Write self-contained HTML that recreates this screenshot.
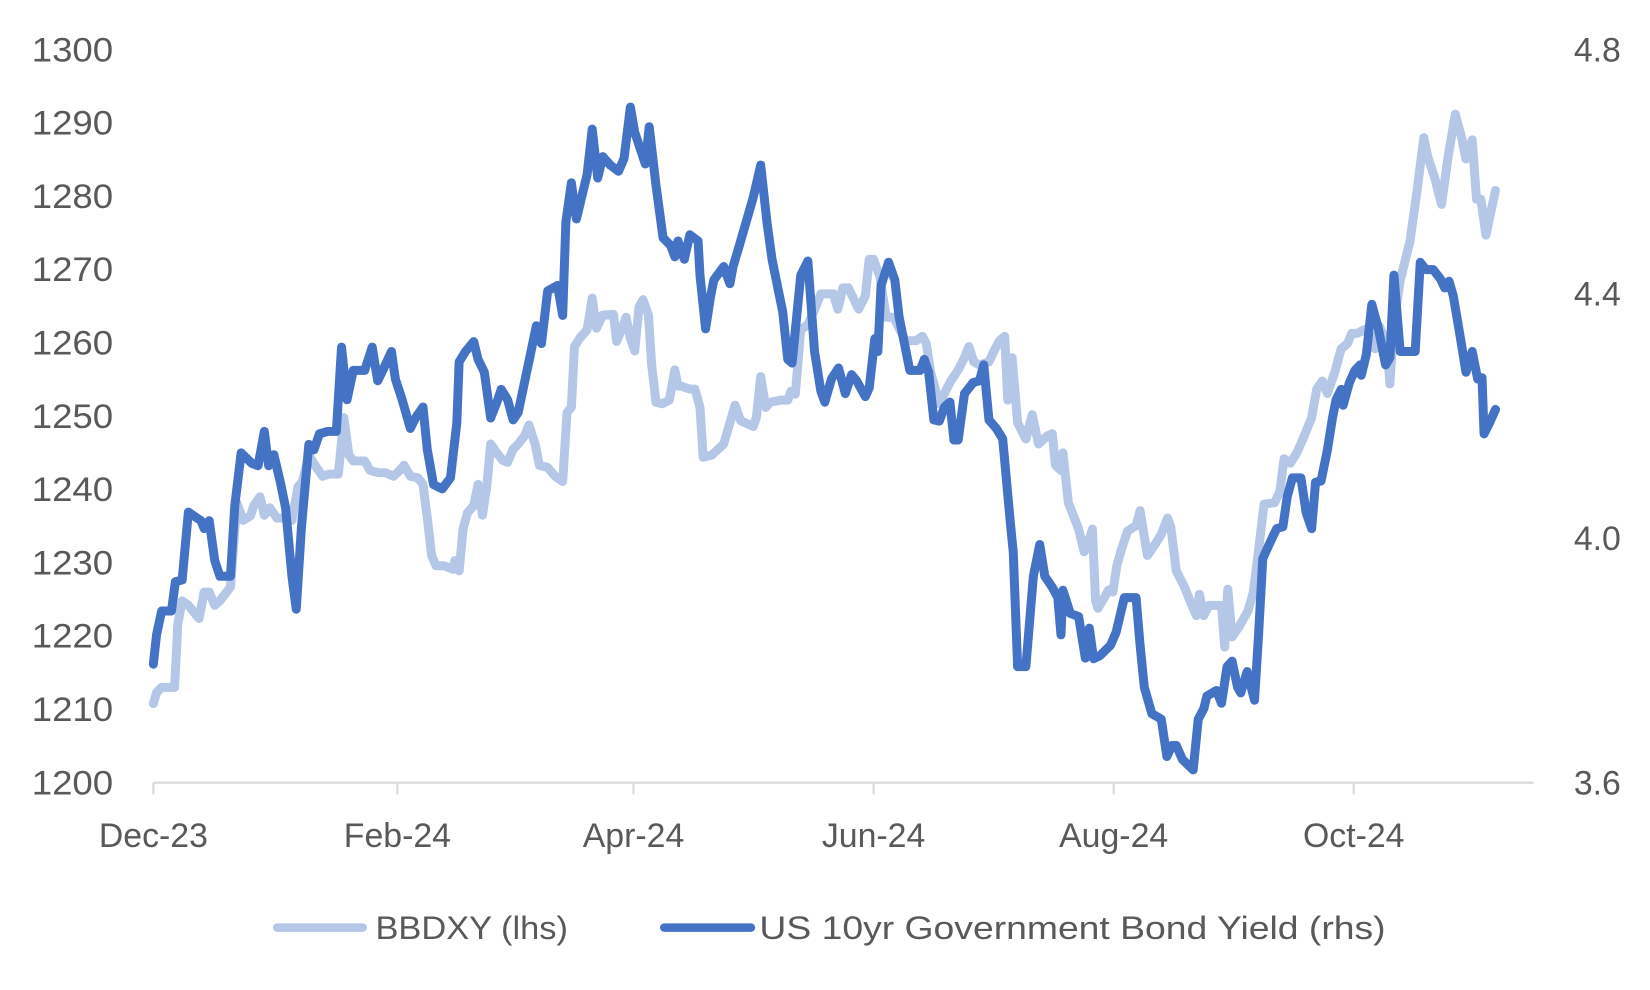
<!DOCTYPE html>
<html><head><meta charset="utf-8"><style>
html,body{margin:0;padding:0;background:#fff;}
svg{display:block;}
text{font-family:"Liberation Sans",sans-serif;fill:#595959;}
</style></head><body>
<svg id="chart" width="1650" height="990" viewBox="0 0 1560 936" preserveAspectRatio="none" xmlns="http://www.w3.org/2000/svg">
<g id="axes"></g>
<g id="series"></g>
<g id="legend">
<line x1="262" y1="877" x2="343" y2="877" stroke="#b4c7e7" stroke-width="8" stroke-linecap="round"/>
<text x="355" y="888" font-size="31" textLength="182" lengthAdjust="spacingAndGlyphs">BBDXY (lhs)</text>
<line x1="628" y1="877" x2="710" y2="877" stroke="#4472c4" stroke-width="8" stroke-linecap="round"/>
<text x="718" y="888" font-size="31" textLength="592" lengthAdjust="spacingAndGlyphs">US 10yr Government Bond Yield (rhs)</text>
</g>
</svg>
<script>
const leftTicks=[1200,1210,1220,1230,1240,1250,1260,1270,1280,1290,1300];
const rightTicks=[3.6,4.0,4.4,4.8];
const monthLabels=["Dec-23","Feb-24","Apr-24","Jun-24","Aug-24","Oct-24"];
const monthDays=[0,62,122,183,244,305];
const bbdxyDays=[0,0.8,2.1,5.4,6.2,7.3,8.9,11.6,12.9,14.2,15.6,16.9,19.6,21.2,22.8,24.7,25.5,27.1,28.2,29.6,31.4,33.6,35.2,36.8,37.9,39.5,41.1,43.0,44.6,47.0,48.4,49.7,50.8,53.7,55.1,57.2,58.9,61.0,62.6,63.7,65.3,67.2,68.5,69.6,70.7,71.8,73.9,76.1,76.6,77.7,78.7,79.8,81.4,82.5,83.6,84.7,85.7,87.3,88.7,90.0,91.4,92.7,94.3,95.4,97.0,98.1,100.2,102.1,104.0,105.1,106.2,107.0,108.3,110.2,111.5,112.6,114.2,116.9,117.7,119.1,120.1,121.2,122.3,123.4,124.4,125.8,126.6,127.7,129.3,131.1,132.5,133.3,134.1,136.3,137.6,138.9,139.7,141.9,144.9,146.5,147.8,149.2,152.4,153.2,154.3,155.6,156.7,159.4,161.2,162.0,163.1,164.5,166.3,168.0,169.6,170.6,172.8,173.9,175.2,176.6,177.6,179.2,180.9,181.9,183.0,184.6,186.2,188.1,191.1,193.8,195.4,196.4,197.5,199.7,201.3,202.6,204.5,206.1,207.2,208.5,209.9,212.3,213.6,215.0,216.3,217.1,218.2,219.6,221.7,223.3,224.9,227.1,228.4,229.2,230.6,231.1,232.5,235.1,236.5,237.8,238.6,239.4,240.0,241.9,242.7,243.8,244.8,245.9,247.5,249.7,250.7,252.1,252.6,254.5,256.1,257.7,258.5,259.9,262.0,263.6,265.0,265.8,266.9,268.2,270.1,271.4,272.2,273.0,274.1,276.0,278.1,279.5,280.8,282.2,284.9,286.2,287.3,288.9,290.5,292.1,294.3,295.6,297.0,298.3,300.2,301.8,303.4,304.5,305.8,307.7,309.1,310.4,311.5,313.4,314.2,315.2,316.8,319.3,321.1,322.8,323.8,325.7,327.3,328.9,330.8,332.4,333.5,335.1,336.2,337.3,338.6,341.0];
const bbdxyVals=[1210.8,1212.3,1213.0,1213.0,1221.6,1224.8,1224.2,1222.4,1226.0,1226.0,1224.2,1224.8,1226.7,1238.2,1235.8,1236.4,1237.8,1239.0,1236.5,1237.5,1236.1,1236.1,1235.8,1240.4,1241.1,1244.7,1243.3,1241.8,1242.1,1242.1,1249.8,1244.7,1243.9,1243.9,1242.6,1242.3,1242.3,1241.8,1242.6,1243.3,1241.8,1241.6,1240.7,1236.1,1231.0,1229.6,1229.6,1229.1,1230.3,1228.9,1234.6,1236.8,1237.8,1240.7,1236.5,1240.4,1246.2,1245.0,1244.0,1243.7,1245.5,1246.2,1247.3,1248.8,1246.2,1243.3,1243.0,1241.8,1241.1,1250.5,1251.2,1259.5,1260.6,1261.8,1266.1,1262.0,1263.8,1263.9,1260.2,1262.0,1263.5,1260.6,1258.9,1264.9,1265.9,1263.8,1257.0,1251.9,1251.7,1252.2,1256.3,1254.1,1254.1,1253.7,1253.7,1251.2,1244.4,1244.7,1246.2,1249.1,1251.5,1249.4,1248.6,1249.8,1255.4,1251.2,1251.9,1252.2,1252.2,1253.4,1253.0,1261.8,1262.5,1264.5,1266.7,1266.7,1266.7,1264.6,1267.5,1267.5,1266.4,1264.6,1266.4,1271.4,1271.4,1269.0,1263.5,1263.5,1260.3,1260.3,1260.9,1259.9,1256.0,1251.7,1253.4,1254.8,1256.3,1258.0,1259.5,1257.4,1257.0,1257.4,1258.9,1260.3,1260.9,1252.2,1258.0,1249.1,1246.9,1250.2,1246.2,1247.3,1247.6,1243.3,1242.6,1245.0,1238.2,1234.6,1231.5,1233.2,1234.6,1224.8,1223.8,1225.5,1226.3,1226.0,1229.6,1231.7,1234.3,1235.1,1237.1,1232.5,1231.0,1232.5,1233.9,1236.1,1234.9,1228.9,1226.7,1224.5,1222.8,1225.7,1222.8,1224.2,1224.2,1224.2,1218.5,1226.4,1219.9,1221.4,1223.4,1226.0,1231.7,1238.0,1238.2,1239.7,1244.2,1243.6,1245.0,1246.9,1249.8,1253.7,1254.8,1253.1,1256.0,1259.2,1259.9,1261.3,1261.3,1261.8,1260.9,1259.2,1262.3,1259.9,1254.4,1262.8,1268.5,1273.9,1280.8,1288.0,1285.4,1282.3,1278.9,1285.1,1291.2,1288.0,1285.1,1287.7,1279.6,1279.6,1274.7,1280.8];
const yieldDays=[0,0.8,2.1,4.6,5.6,7.3,8.9,12.1,12.9,14.2,15.6,16.9,19.6,20.7,22.3,25.0,26.6,28.2,29.3,30.6,32.2,33.6,35.2,36.3,37.6,39.5,40.8,42.2,44.3,46.5,47.8,49.2,50.8,53.7,55.6,57.0,58.3,60.5,61.5,63.2,65.3,66.6,68.5,69.6,71.2,73.4,75.5,77.1,77.7,79.3,81.4,82.5,84.1,85.7,87.3,88.4,90.0,91.4,92.7,95.4,97.3,98.6,100.2,102.7,104.0,104.8,106.2,107.5,110.2,111.5,112.9,114.2,116.1,118.2,119.6,121.2,122.3,125.0,126.0,127.7,129.5,131.4,132.5,133.3,134.9,136.3,138.4,138.9,140.3,141.6,142.4,144.9,146.5,147.3,148.9,152.4,154.3,155.9,157.2,159.9,161.2,162.3,164.5,166.3,168.0,169.6,170.6,172.3,174.1,175.8,177.4,178.7,180.9,181.9,183.3,184.1,184.9,186.8,188.4,189.5,192.2,193.8,194.8,195.9,197.0,198.3,199.7,201.0,202.4,203.4,204.5,206.1,208.3,209.9,211.0,212.3,214.2,215.8,217.7,218.5,219.6,221.7,223.6,225.2,226.5,228.4,229.8,230.6,231.1,233.0,235.1,236.8,237.8,238.9,240.5,243.2,244.6,246.7,248.6,249.7,250.7,251.8,253.7,256.1,257.5,258.8,259.9,261.5,264.2,265.5,266.9,267.7,270.1,271.4,272.8,274.1,275.5,276.3,277.9,279.8,280.8,281.9,283.5,285.4,287.0,288.1,289.4,291.6,292.9,294.3,295.3,296.7,298.3,299.6,300.5,301.8,302.3,303.9,305.3,306.6,306.9,308.2,309.6,311.2,313.1,314.2,315.2,316.8,320.6,321.9,323.3,325.2,327.1,328.1,329.2,330.3,331.9,333.5,335.1,336.5,337.6,338.1,339.5,341.0];
const yieldVals=[3.794,3.842,3.881,3.881,3.929,3.932,4.043,4.029,4.016,4.029,3.964,3.938,3.938,4.054,4.140,4.123,4.119,4.175,4.119,4.137,4.094,4.050,3.938,3.884,4.016,4.154,4.145,4.171,4.175,4.175,4.313,4.227,4.275,4.275,4.313,4.258,4.275,4.306,4.261,4.227,4.180,4.197,4.215,4.145,4.088,4.081,4.099,4.189,4.289,4.306,4.322,4.293,4.272,4.197,4.223,4.244,4.227,4.194,4.206,4.289,4.348,4.319,4.405,4.414,4.365,4.518,4.582,4.523,4.596,4.670,4.590,4.625,4.611,4.601,4.622,4.706,4.665,4.613,4.674,4.578,4.492,4.480,4.461,4.487,4.457,4.497,4.487,4.431,4.343,4.397,4.423,4.445,4.417,4.445,4.480,4.558,4.611,4.518,4.457,4.371,4.293,4.287,4.431,4.454,4.306,4.241,4.223,4.261,4.279,4.237,4.268,4.258,4.232,4.246,4.327,4.306,4.414,4.452,4.423,4.362,4.275,4.275,4.275,4.293,4.272,4.194,4.192,4.215,4.223,4.161,4.161,4.237,4.255,4.258,4.284,4.194,4.180,4.163,4.028,3.977,3.790,3.790,3.938,3.990,3.938,3.920,3.903,3.842,3.915,3.877,3.872,3.804,3.853,3.803,3.808,3.825,3.846,3.903,3.903,3.903,3.825,3.756,3.713,3.704,3.643,3.661,3.661,3.638,3.621,3.704,3.721,3.742,3.751,3.730,3.790,3.799,3.756,3.747,3.782,3.735,3.842,3.967,3.990,4.016,4.019,4.068,4.099,4.099,4.042,4.016,4.092,4.094,4.145,4.197,4.227,4.244,4.218,4.255,4.275,4.284,4.267,4.301,4.383,4.345,4.284,4.296,4.431,4.306,4.306,4.452,4.440,4.440,4.424,4.410,4.421,4.397,4.336,4.272,4.306,4.261,4.263,4.171,4.189,4.211];

const NS="http://www.w3.org/2000/svg";
function x(d){return 145+d*3.721;}
function yL(v){return 740-(v-1200)*6.93;}
function yR(v){return 740-(v-3.6)*577.5;}
function mk(tag,attrs,parent){const e=document.createElementNS(NS,tag);for(const k in attrs)e.setAttribute(k,attrs[k]);parent.appendChild(e);return e;}
const axes=document.getElementById('axes');
const ax=mk('line',{x1:145,y1:740,x2:1450,y2:740,stroke:'#d9d9d9','stroke-width':2},axes);


leftTicks.forEach(v=>{const t=mk('text',{x:107,y:yL(v)+11,'font-size':32,'text-anchor':'end',textLength:77,lengthAdjust:'spacingAndGlyphs'},axes);t.textContent=v;

});
rightTicks.forEach(v=>{const t=mk('text',{x:1488,y:yR(v)+11,'font-size':32},axes);t.textContent=v.toFixed(1);

});
monthLabels.forEach((m,i)=>{const px=x(monthDays[i]);
const tk=mk('line',{x1:px,y1:740,x2:px,y2:751,stroke:'#d9d9d9','stroke-width':2},axes);


const t=mk('text',{x:px,y:801,'font-size':32,'text-anchor':'middle'},axes);t.textContent=m;

});
const series=document.getElementById('series');
function pts(ds,vs,f){return ds.map((d,i)=>x(d).toFixed(1)+','+f(vs[i]).toFixed(1)).join(' ');}
const l1=mk('polyline',{points:pts(bbdxyDays,bbdxyVals,yL),fill:'none',stroke:'#b4c7e7','stroke-width':8.5,'stroke-linejoin':'round','stroke-linecap':'round'},series);


const l2=mk('polyline',{points:pts(yieldDays,yieldVals,yR),fill:'none',stroke:'#4472c4','stroke-width':8.5,'stroke-linejoin':'round','stroke-linecap':'round'},series);


</script>
</body></html>
